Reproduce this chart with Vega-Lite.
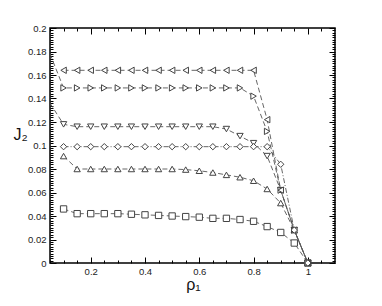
{
  "$schema": "https://vega.github.io/schema/vega-lite/v6.json",
  "width": 285,
  "height": 235,
  "autosize": {"type": "none"},
  "padding": {"left": 50, "top": 28, "right": 47, "bottom": 43},
  "background": "white",
  "config": {
    "view": {"stroke": "#000", "strokeWidth": 1.5},
    "font": "Liberation Sans",
    "axis": {"domain": false, "grid": false, "tickColor": "#000", "tickSize": -6, "labelColor": "#222", "labelFont": "Liberation Sans", "labelFontSize": 9.5}
  },
  "data": {
    "values": [
      {"s": "ρ₂= 0.01", "x": 0.10, "y": 0.046, "m": 1},
      {"s": "ρ₂= 0.01", "x": 0.15, "y": 0.042, "m": 1},
      {"s": "ρ₂= 0.01", "x": 0.20, "y": 0.042, "m": 1},
      {"s": "ρ₂= 0.01", "x": 0.25, "y": 0.042, "m": 1},
      {"s": "ρ₂= 0.01", "x": 0.30, "y": 0.042, "m": 1},
      {"s": "ρ₂= 0.01", "x": 0.35, "y": 0.0415, "m": 1},
      {"s": "ρ₂= 0.01", "x": 0.40, "y": 0.041, "m": 1},
      {"s": "ρ₂= 0.01", "x": 0.45, "y": 0.0405, "m": 1},
      {"s": "ρ₂= 0.01", "x": 0.50, "y": 0.040, "m": 1},
      {"s": "ρ₂= 0.01", "x": 0.55, "y": 0.0395, "m": 1},
      {"s": "ρ₂= 0.01", "x": 0.60, "y": 0.039, "m": 1},
      {"s": "ρ₂= 0.01", "x": 0.65, "y": 0.038, "m": 1},
      {"s": "ρ₂= 0.01", "x": 0.70, "y": 0.038, "m": 1},
      {"s": "ρ₂= 0.01", "x": 0.75, "y": 0.037, "m": 1},
      {"s": "ρ₂= 0.01", "x": 0.80, "y": 0.0355, "m": 1},
      {"s": "ρ₂= 0.01", "x": 0.85, "y": 0.031, "m": 1},
      {"s": "ρ₂= 0.01", "x": 0.90, "y": 0.026, "m": 1},
      {"s": "ρ₂= 0.01", "x": 0.95, "y": 0.017, "m": 1},
      {"s": "ρ₂= 0.01", "x": 1.00, "y": 0.0, "m": 1},

      {"s": "ρ₂= 0.02", "x": 0.10, "y": 0.091, "m": 1},
      {"s": "ρ₂= 0.02", "x": 0.15, "y": 0.080, "m": 1},
      {"s": "ρ₂= 0.02", "x": 0.20, "y": 0.080, "m": 1},
      {"s": "ρ₂= 0.02", "x": 0.25, "y": 0.080, "m": 1},
      {"s": "ρ₂= 0.02", "x": 0.30, "y": 0.080, "m": 1},
      {"s": "ρ₂= 0.02", "x": 0.35, "y": 0.080, "m": 1},
      {"s": "ρ₂= 0.02", "x": 0.40, "y": 0.080, "m": 1},
      {"s": "ρ₂= 0.02", "x": 0.45, "y": 0.080, "m": 1},
      {"s": "ρ₂= 0.02", "x": 0.50, "y": 0.080, "m": 1},
      {"s": "ρ₂= 0.02", "x": 0.55, "y": 0.0795, "m": 1},
      {"s": "ρ₂= 0.02", "x": 0.60, "y": 0.0785, "m": 1},
      {"s": "ρ₂= 0.02", "x": 0.65, "y": 0.077, "m": 1},
      {"s": "ρ₂= 0.02", "x": 0.70, "y": 0.075, "m": 1},
      {"s": "ρ₂= 0.02", "x": 0.75, "y": 0.073, "m": 1},
      {"s": "ρ₂= 0.02", "x": 0.80, "y": 0.070, "m": 1},
      {"s": "ρ₂= 0.02", "x": 0.85, "y": 0.063, "m": 1},
      {"s": "ρ₂= 0.02", "x": 0.90, "y": 0.051, "m": 1},
      {"s": "ρ₂= 0.02", "x": 0.95, "y": 0.028, "m": 1},
      {"s": "ρ₂= 0.02", "x": 1.00, "y": 0.0, "m": 1},

      {"s": "ρ₂= 0.03", "x": 0.05, "y": 0.136, "m": 0},
      {"s": "ρ₂= 0.03", "x": 0.10, "y": 0.118, "m": 1},
      {"s": "ρ₂= 0.03", "x": 0.15, "y": 0.116, "m": 1},
      {"s": "ρ₂= 0.03", "x": 0.20, "y": 0.116, "m": 1},
      {"s": "ρ₂= 0.03", "x": 0.25, "y": 0.116, "m": 1},
      {"s": "ρ₂= 0.03", "x": 0.30, "y": 0.116, "m": 1},
      {"s": "ρ₂= 0.03", "x": 0.35, "y": 0.116, "m": 1},
      {"s": "ρ₂= 0.03", "x": 0.40, "y": 0.116, "m": 1},
      {"s": "ρ₂= 0.03", "x": 0.45, "y": 0.116, "m": 1},
      {"s": "ρ₂= 0.03", "x": 0.50, "y": 0.116, "m": 1},
      {"s": "ρ₂= 0.03", "x": 0.55, "y": 0.116, "m": 1},
      {"s": "ρ₂= 0.03", "x": 0.60, "y": 0.116, "m": 1},
      {"s": "ρ₂= 0.03", "x": 0.65, "y": 0.116, "m": 1},
      {"s": "ρ₂= 0.03", "x": 0.70, "y": 0.114, "m": 1},
      {"s": "ρ₂= 0.03", "x": 0.75, "y": 0.108, "m": 1},
      {"s": "ρ₂= 0.03", "x": 0.80, "y": 0.102, "m": 1},
      {"s": "ρ₂= 0.03", "x": 0.85, "y": 0.091, "m": 1},
      {"s": "ρ₂= 0.03", "x": 0.90, "y": 0.062, "m": 1},
      {"s": "ρ₂= 0.03", "x": 0.95, "y": 0.028, "m": 1},
      {"s": "ρ₂= 0.03", "x": 1.00, "y": 0.0, "m": 1},

      {"s": "ρ₂= 0.04", "x": 0.05, "y": 0.178, "m": 0},
      {"s": "ρ₂= 0.04", "x": 0.10, "y": 0.149, "m": 1},
      {"s": "ρ₂= 0.04", "x": 0.15, "y": 0.149, "m": 1},
      {"s": "ρ₂= 0.04", "x": 0.20, "y": 0.149, "m": 1},
      {"s": "ρ₂= 0.04", "x": 0.25, "y": 0.149, "m": 1},
      {"s": "ρ₂= 0.04", "x": 0.30, "y": 0.149, "m": 1},
      {"s": "ρ₂= 0.04", "x": 0.35, "y": 0.149, "m": 1},
      {"s": "ρ₂= 0.04", "x": 0.40, "y": 0.149, "m": 1},
      {"s": "ρ₂= 0.04", "x": 0.45, "y": 0.149, "m": 1},
      {"s": "ρ₂= 0.04", "x": 0.50, "y": 0.149, "m": 1},
      {"s": "ρ₂= 0.04", "x": 0.55, "y": 0.149, "m": 1},
      {"s": "ρ₂= 0.04", "x": 0.60, "y": 0.149, "m": 1},
      {"s": "ρ₂= 0.04", "x": 0.65, "y": 0.149, "m": 1},
      {"s": "ρ₂= 0.04", "x": 0.70, "y": 0.149, "m": 1},
      {"s": "ρ₂= 0.04", "x": 0.75, "y": 0.149, "m": 1},
      {"s": "ρ₂= 0.04", "x": 0.80, "y": 0.142, "m": 1},
      {"s": "ρ₂= 0.04", "x": 0.85, "y": 0.112, "m": 1},
      {"s": "ρ₂= 0.04", "x": 0.90, "y": 0.062, "m": 1},
      {"s": "ρ₂= 0.04", "x": 0.95, "y": 0.028, "m": 1},
      {"s": "ρ₂= 0.04", "x": 1.00, "y": 0.0, "m": 1},

      {"s": "ρ₂= 0.05–0.8", "x": 0.10, "y": 0.164, "m": 1},
      {"s": "ρ₂= 0.05–0.8", "x": 0.15, "y": 0.164, "m": 1},
      {"s": "ρ₂= 0.05–0.8", "x": 0.20, "y": 0.164, "m": 1},
      {"s": "ρ₂= 0.05–0.8", "x": 0.25, "y": 0.164, "m": 1},
      {"s": "ρ₂= 0.05–0.8", "x": 0.30, "y": 0.164, "m": 1},
      {"s": "ρ₂= 0.05–0.8", "x": 0.35, "y": 0.164, "m": 1},
      {"s": "ρ₂= 0.05–0.8", "x": 0.40, "y": 0.164, "m": 1},
      {"s": "ρ₂= 0.05–0.8", "x": 0.45, "y": 0.164, "m": 1},
      {"s": "ρ₂= 0.05–0.8", "x": 0.50, "y": 0.164, "m": 1},
      {"s": "ρ₂= 0.05–0.8", "x": 0.55, "y": 0.164, "m": 1},
      {"s": "ρ₂= 0.05–0.8", "x": 0.60, "y": 0.164, "m": 1},
      {"s": "ρ₂= 0.05–0.8", "x": 0.65, "y": 0.164, "m": 1},
      {"s": "ρ₂= 0.05–0.8", "x": 0.70, "y": 0.164, "m": 1},
      {"s": "ρ₂= 0.05–0.8", "x": 0.75, "y": 0.164, "m": 1},
      {"s": "ρ₂= 0.05–0.8", "x": 0.80, "y": 0.164, "m": 1},
      {"s": "ρ₂= 0.05–0.8", "x": 0.85, "y": 0.122, "m": 1},
      {"s": "ρ₂= 0.05–0.8", "x": 0.90, "y": 0.062, "m": 1},
      {"s": "ρ₂= 0.05–0.8", "x": 0.95, "y": 0.028, "m": 1},
      {"s": "ρ₂= 0.05–0.8", "x": 1.00, "y": 0.0, "m": 1},

      {"s": "ρ₂= 0.9", "x": 0.10, "y": 0.099, "m": 1},
      {"s": "ρ₂= 0.9", "x": 0.15, "y": 0.099, "m": 1},
      {"s": "ρ₂= 0.9", "x": 0.20, "y": 0.099, "m": 1},
      {"s": "ρ₂= 0.9", "x": 0.25, "y": 0.099, "m": 1},
      {"s": "ρ₂= 0.9", "x": 0.30, "y": 0.099, "m": 1},
      {"s": "ρ₂= 0.9", "x": 0.35, "y": 0.099, "m": 1},
      {"s": "ρ₂= 0.9", "x": 0.40, "y": 0.099, "m": 1},
      {"s": "ρ₂= 0.9", "x": 0.45, "y": 0.099, "m": 1},
      {"s": "ρ₂= 0.9", "x": 0.50, "y": 0.099, "m": 1},
      {"s": "ρ₂= 0.9", "x": 0.55, "y": 0.099, "m": 1},
      {"s": "ρ₂= 0.9", "x": 0.60, "y": 0.099, "m": 1},
      {"s": "ρ₂= 0.9", "x": 0.65, "y": 0.099, "m": 1},
      {"s": "ρ₂= 0.9", "x": 0.70, "y": 0.099, "m": 1},
      {"s": "ρ₂= 0.9", "x": 0.75, "y": 0.099, "m": 1},
      {"s": "ρ₂= 0.9", "x": 0.80, "y": 0.099, "m": 1},
      {"s": "ρ₂= 0.9", "x": 0.85, "y": 0.099, "m": 1},
      {"s": "ρ₂= 0.9", "x": 0.90, "y": 0.084, "m": 1},
      {"s": "ρ₂= 0.9", "x": 0.95, "y": 0.028, "m": 1},
      {"s": "ρ₂= 0.9", "x": 1.00, "y": 0.0, "m": 1}
    ]
  },
  "layer": [
    {
      "mark": {"type": "line", "clip": true, "color": "#555", "strokeWidth": 0.9},
      "encoding": {
        "x": {
          "field": "x", "type": "quantitative",
          "scale": {"domain": [0.05, 1.1], "nice": false, "zero": false},
          "axis": {
            "orient": "bottom",
            "title": "ρ₁",
            "titleFont": "Liberation Sans",
            "titleFontSize": 16,
            "titleFontWeight": "normal",
            "titleColor": "#111",
            "titleX": 143,
            "titleY": 21,
            "titleAnchor": null,
            "titleBaseline": "middle",
            "titleAlign": "center",
            "values": [0.05,0.1,0.15,0.2,0.25,0.3,0.35,0.4,0.45,0.5,0.55,0.6,0.65,0.7,0.75,0.8,0.85,0.9,0.95,1.0,1.05],
            "labelExpr": "abs(datum.value*5-round(datum.value*5))<0.001 ? format(datum.value,'~g') : ''",
            "tickDash": {"condition": {"test": "abs(datum.value*5-round(datum.value*5))<0.001", "value": [6, 0]}, "value": [3, 50]},
            "labelPadding": 9,
            "labelFlush": false,
            "labelOverlap": false
          }
        },
        "y": {
          "field": "y", "type": "quantitative",
          "scale": {"domain": [0, 0.2], "nice": false},
          "axis": {
            "orient": "left",
            "title": "J₂",
            "titleFont": "Liberation Sans",
            "titleFontSize": 16,
            "titleFontWeight": "normal",
            "titleColor": "#111",
            "titleAngle": 0,
            "titleX": -30,
            "titleY": 106,
            "titleAnchor": null,
            "titleBaseline": "middle",
            "titleAlign": "center",
            "values": [0,0.002,0.004,0.006,0.008,0.01,0.012,0.014,0.016,0.018,0.02,0.022,0.024,0.026,0.028,0.03,0.032,0.034,0.036,0.038,0.04,0.042,0.044,0.046,0.048,0.05,0.052,0.054,0.056,0.058,0.06,0.062,0.064,0.066,0.068,0.07,0.072,0.074,0.076,0.078,0.08,0.082,0.084,0.086,0.088,0.09,0.092,0.094,0.096,0.098,0.1,0.102,0.104,0.106,0.108,0.11,0.112,0.114,0.116,0.118,0.12,0.122,0.124,0.126,0.128,0.13,0.132,0.134,0.136,0.138,0.14,0.142,0.144,0.146,0.148,0.15,0.152,0.154,0.156,0.158,0.16,0.162,0.164,0.166,0.168,0.17,0.172,0.174,0.176,0.178,0.18,0.182,0.184,0.186,0.188,0.19,0.192,0.194,0.196,0.198,0.2],
            "labelExpr": "abs(datum.value*50-round(datum.value*50))<0.01 ? format(datum.value,'~g') : ''",
            "tickDash": {"condition": {"test": "abs(datum.value*50-round(datum.value*50))<0.01", "value": [6, 0]}, "value": [3, 50]},
            "labelPadding": 10,
            "labelFlush": false,
            "labelOverlap": false
          }
        },
        "detail": {"field": "s"},
        "strokeDash": {
          "field": "s", "type": "nominal",
          "scale": {
            "domain": ["ρ₂= 0.01", "ρ₂= 0.02", "ρ₂= 0.03", "ρ₂= 0.04", "ρ₂= 0.05–0.8", "ρ₂= 0.9"],
            "range": [[5, 3], [5, 3], [5, 3], [5, 3], [5, 3], [5, 2, 1, 2]]
          },
          "legend": null
        }
      }
    },
    {
      "transform": [{"filter": "datum.m == 1"}],
      "mark": {"type": "point", "filled": false, "fill": "white", "fillOpacity": 1, "stroke": "#444", "strokeWidth": 1, "size": 40, "opacity": 1},
      "encoding": {
        "x": {
          "field": "x", "type": "quantitative",
          "axis": {
            "orient": "top",
            "title": null,
            "labels": false,
            "values": [0.05,0.1,0.15,0.2,0.25,0.3,0.35,0.4,0.45,0.5,0.55,0.6,0.65,0.7,0.75,0.8,0.85,0.9,0.95,1.0,1.05],
            "tickDash": {"condition": {"test": "abs(datum.value*5-round(datum.value*5))<0.001", "value": [6, 0]}, "value": [3, 50]}
          }
        },
        "y": {
          "field": "y", "type": "quantitative",
          "axis": {
            "orient": "right",
            "title": null,
            "labels": false,
            "values": [0,0.002,0.004,0.006,0.008,0.01,0.012,0.014,0.016,0.018,0.02,0.022,0.024,0.026,0.028,0.03,0.032,0.034,0.036,0.038,0.04,0.042,0.044,0.046,0.048,0.05,0.052,0.054,0.056,0.058,0.06,0.062,0.064,0.066,0.068,0.07,0.072,0.074,0.076,0.078,0.08,0.082,0.084,0.086,0.088,0.09,0.092,0.094,0.096,0.098,0.1,0.102,0.104,0.106,0.108,0.11,0.112,0.114,0.116,0.118,0.12,0.122,0.124,0.126,0.128,0.13,0.132,0.134,0.136,0.138,0.14,0.142,0.144,0.146,0.148,0.15,0.152,0.154,0.156,0.158,0.16,0.162,0.164,0.166,0.168,0.17,0.172,0.174,0.176,0.178,0.18,0.182,0.184,0.186,0.188,0.19,0.192,0.194,0.196,0.198,0.2],
            "tickDash": {"condition": {"test": "abs(datum.value*50-round(datum.value*50))<0.01", "value": [6, 0]}, "value": [3, 50]}
          }
        },
        "shape": {
          "field": "s", "type": "nominal",
          "scale": {
            "domain": ["ρ₂= 0.01", "ρ₂= 0.02", "ρ₂= 0.03", "ρ₂= 0.04", "ρ₂= 0.05–0.8", "ρ₂= 0.9"],
            "range": ["square", "triangle-up", "triangle-down", "triangle-right", "triangle-left", "diamond"]
          },
          "legend": {
            "title": null,
            "orient": "none",
            "legendX": 222,
            "legendY": 5,
            "padding": 0,
            "rowPadding": 0,
            "symbolSize": 30,
            "symbolStrokeColor": "#444",
            "symbolStrokeWidth": 1,
            "symbolFillColor": "white",
            "labelFont": "Liberation Serif",
            "labelFontSize": 8,
            "labelColor": "#444",
            "labelOffset": 10
          }
        }
      }
    }
  ],
  "resolve": {"axis": {"x": "independent", "y": "independent"}}
}
